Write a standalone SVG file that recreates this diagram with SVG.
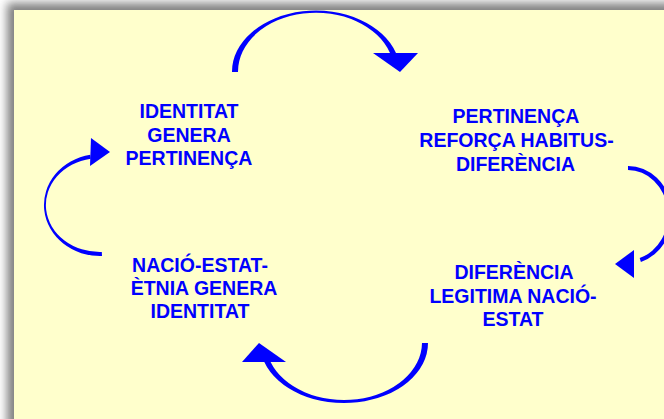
<svg xmlns="http://www.w3.org/2000/svg" width="664" height="419" viewBox="0 0 664 419">
<defs>
<filter id="sh" x="-20%" y="-20%" width="140%" height="140%"><feGaussianBlur stdDeviation="5"/></filter>
<style>
.t{font-family:"Liberation Sans",Arial,sans-serif;font-weight:bold;font-size:19.5px;fill:#0000FF;text-anchor:middle}
.a{fill:#0000FF}
</style>
</defs>
<rect width="664" height="419" fill="#FFFFFF"/>
<rect x="7" y="3" width="720" height="480" fill="#808080" filter="url(#sh)"/>
<rect x="14" y="10" width="660" height="420" fill="#FFFFCC"/>
<g id="connectors">
<g id="arrow-top">
<path class="a" d="M232,72 A84,61 0 0 1 396,53 L390,53 A78,59 0 0 0 238,72 Z"/>
<polygon class="a" points="373,53 418,53 400,72"/>
</g>
<g id="arrow-right">
<path class="a" d="M628,166 A44,49 0 0 1 640.9,261.9 L639.7,258 A40,45 0 0 0 628,170 Z"/>
<polygon class="a" points="615,264 634,250 634,278"/>
</g>
<g id="arrow-bottom">
<path class="a" d="M428,343 A84,60 0 0 1 264.3,362 L270.6,362 A78,57.5 0 0 0 422,343 Z"/>
<polygon class="a" points="259,343 242,362 286,362"/>
</g>
<g id="arrow-left">
<path class="a" d="M102,256 A56,51 0 0 1 90.3,154.8 L90.8,158.7 A54,47 0 0 0 101.8,252 Z"/>
<polygon class="a" points="110,152 91,138 90,166"/>
</g>
</g>
<g id="node-identitat">
<text class="t" x="189" y="118">IDENTITAT</text>
<text class="t" x="189" y="141.5">GENERA</text>
<text class="t" x="189" y="165">PERTINENÇA</text>
</g>
<g id="node-pertinenca">
<text class="t" x="516" y="123">PERTINENÇA</text>
<text class="t" x="516.5" y="147">REFORÇA HABITUS-</text>
<text class="t" x="515.5" y="170.5">DIFERÈNCIA</text>
</g>
<g id="node-diferencia">
<text class="t" x="514" y="279">DIFERÈNCIA</text>
<text class="t" x="513" y="302.5">LEGITIMA NACIÓ-</text>
<text class="t" x="513" y="326">ESTAT</text>
</g>
<g id="node-nacio">
<text class="t" x="200" y="271.5">NACIÓ-ESTAT-</text>
<text class="t" x="204" y="294.5">ÈTNIA GENERA</text>
<text class="t" x="200" y="318">IDENTITAT</text>
</g>
</svg>
